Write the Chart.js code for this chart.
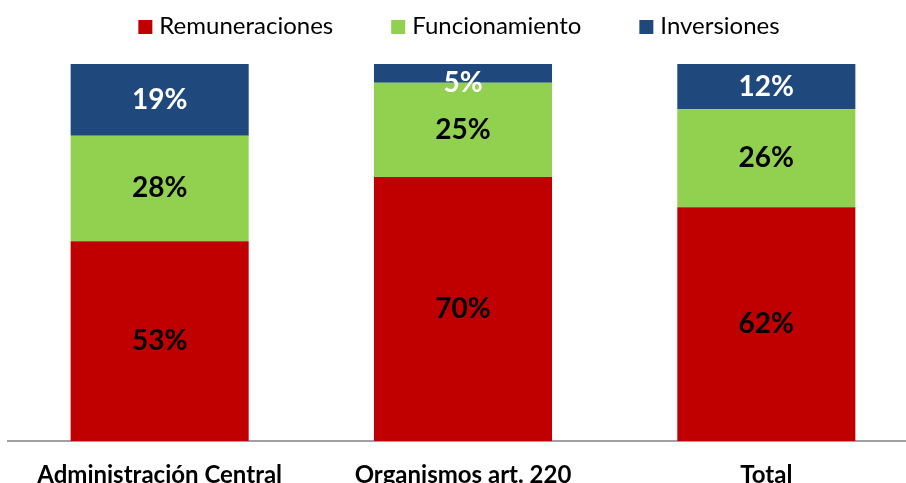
<!DOCTYPE html>
<html>
<head>
<meta charset="utf-8">
<script src="https://cdn.jsdelivr.net/npm/chart.js@4"></script>
<style>
  html, body { margin: 0; padding: 0; background: #ffffff; overflow: hidden; width: 906px; height: 483px; }
  #c { position: absolute; left: 0; top: 0; }
</style>
</head>
<body>
<canvas id="c" width="918" height="506" style="width:918px;height:506px"></canvas>
<script>
// ---- data ----
const categories = ['Administración Central', 'Organismos art. 220', 'Total'];
const seriesNames = ['Remuneraciones', 'Funcionamiento', 'Inversiones'];
const remuneraciones = [53, 70, 62];
const funcionamiento = [28, 25, 26];
const inversiones = [19, 5, 12];
const seriesColors = ['#C00000', '#92D050', '#1F497D'];
const labelColors = ['#000000', '#000000', '#FFFFFF'];

const FONT = 'Lato, "Open Sans", sans-serif';

const valueLabels = {
  id: 'valueLabels',
  afterDatasetsDraw(chart) {
    const ctx = chart.ctx;
    ctx.save();
    ctx.font = 'bold 28px ' + FONT;
    ctx.textAlign = 'center';
    ctx.textBaseline = 'middle';
    chart.data.datasets.forEach((ds, di) => {
      const meta = chart.getDatasetMeta(di);
      meta.data.forEach((bar, i) => {
        const top = Math.min(bar.y, bar.base);
        const bottom = Math.max(bar.y, bar.base);
        let y = (top + bottom) / 2;
        y = Math.max(y, top + 18.5);
        ctx.fillStyle = labelColors[di];
        ctx.fillText(ds.data[i] + '%', bar.x, y);
      });
    });
    ctx.restore();
  }
};

const customLegend = {
  id: 'customLegend',
  afterDraw(chart) {
    const ctx = chart.ctx;
    ctx.save();
    ctx.font = '24px ' + FONT;
    ctx.textBaseline = 'middle';
    ctx.textAlign = 'left';
    const box = 14, boxGap = 7, itemGap = 58;
    const items = chart.data.datasets.map(d => ({ text: d.label, color: d.backgroundColor, w: ctx.measureText(d.label).width }));
    let total = 0;
    items.forEach((it, i) => { total += box + boxGap + it.w + (i < items.length - 1 ? itemGap : 0); });
    let x = chart.width / 2 - total / 2;
    const cy = 27;
    items.forEach(it => {
      ctx.fillStyle = it.color;
      ctx.fillRect(x, cy - box / 2, box, box);
      ctx.fillStyle = '#000000';
      ctx.fillText(it.text, x + box + boxGap, cy - 1);
      x += box + boxGap + it.w + itemGap;
    });
    ctx.restore();
  }
};

const seriesData = [remuneraciones, funcionamiento, inversiones];

new Chart(document.getElementById('c'), {
  type: 'bar',
  data: {
    labels: categories,
    datasets: seriesNames.map((name, i) => ({
      label: name,
      data: seriesData[i],
      backgroundColor: seriesColors[i],
      borderWidth: 0,
      categoryPercentage: 1.0,
      barPercentage: 0.587
    }))
  },
  options: {
    responsive: false,
    maintainAspectRatio: false,
    animation: false,
    devicePixelRatio: 1,
    layout: { padding: { left: 8, right: 0, top: 64, bottom: 5 } },
    plugins: {
      legend: { display: false },
      tooltip: { enabled: false }
    },
    scales: {
      x: {
        stacked: true,
        grid: { display: false },
        border: { display: true, color: '#A0A0A0', width: 2 },
        ticks: {
          color: '#000000',
          padding: 14,
          font: { family: FONT, size: 24, weight: 'bold', lineHeight: 1 },
          maxRotation: 0,
          autoSkip: false
        }
      },
      y: {
        stacked: true,
        display: false,
        min: 0,
        max: 100
      }
    }
  },
  plugins: [valueLabels, customLegend]
});
</script>
</body>
</html>
